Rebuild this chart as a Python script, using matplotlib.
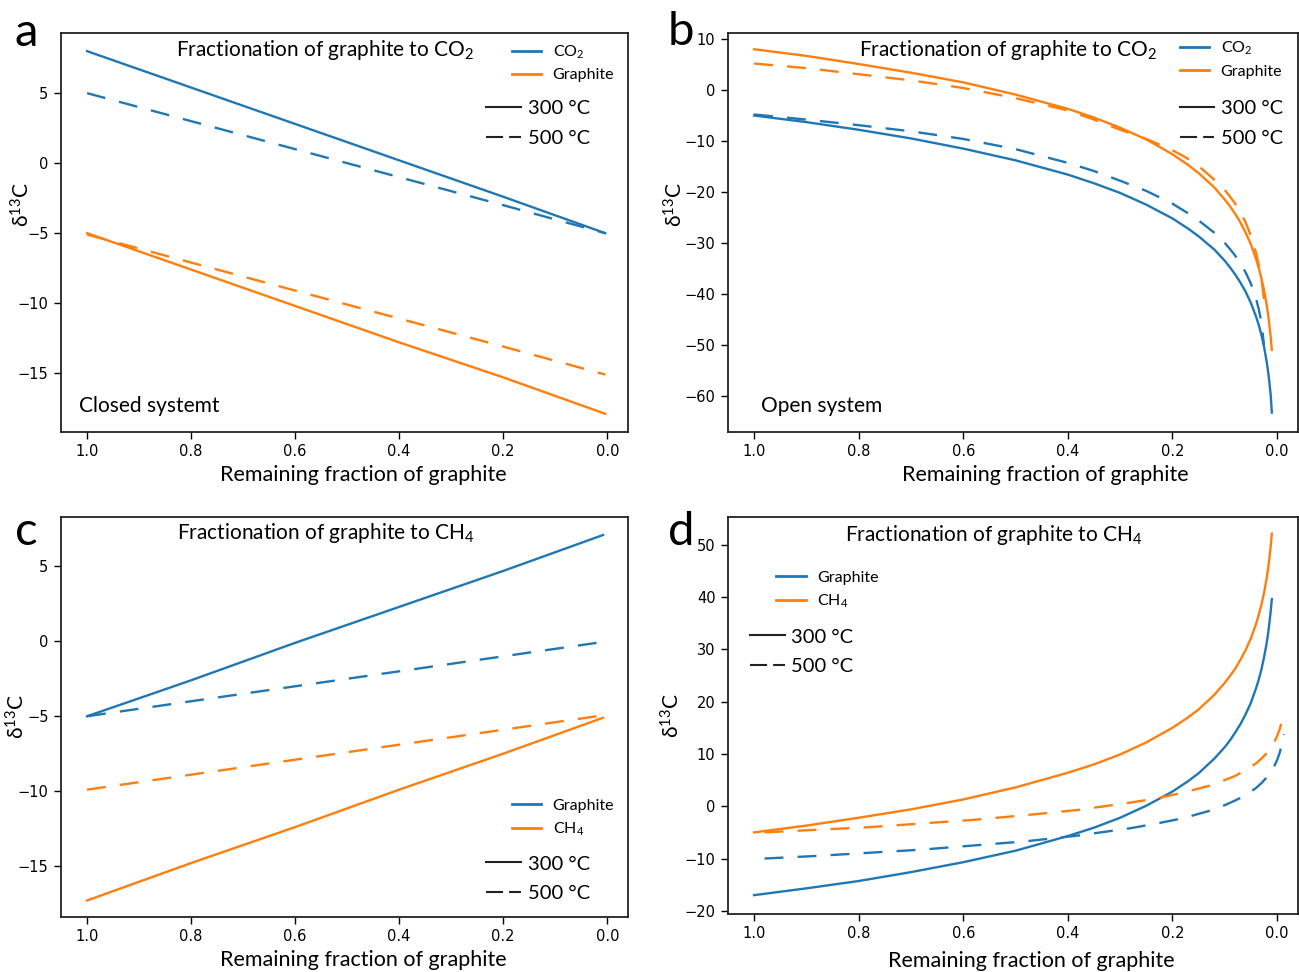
import matplotlib
matplotlib.use('Agg')
import matplotlib.pyplot as plt
from matplotlib.lines import Line2D

# ---- panel a : closed system, graphite -> CO2 ----
a_x = [1.0, 0.8, 0.6, 0.4, 0.2, 0.004]
a_co2_300 = [8.0, 5.4, 2.8, 0.2, -2.4, -5.0]
a_co2_500 = [5.0, 3.0, 1.0, -1.0, -3.0, -5.0]
a_gr_300 = [-5.0, -7.6, -10.2, -12.8, -15.3, -17.9]
a_gr_500 = [-5.1, -7.1, -9.1, -11.1, -13.1, -15.1]

# ---- panel b : open system, graphite -> CO2 ----
b_x = [1.0, 0.9, 0.8, 0.7, 0.6, 0.5, 0.4, 0.35, 0.3, 0.25, 0.2, 0.17, 0.15,
       0.12, 0.1, 0.09, 0.08, 0.07, 0.06, 0.05, 0.04, 0.035, 0.03, 0.025,
       0.02, 0.017, 0.015, 0.012, 0.01]
b_co2_300 = [-5.0, -6.3, -7.8, -9.5, -11.5, -13.8, -16.6, -18.3, -20.2, -22.5,
             -25.2, -27.2, -28.7, -31.3, -33.5, -34.8, -36.2, -37.8, -39.6,
             -41.8, -44.5, -46.1, -48.0, -50.3, -53.2, -55.3, -57.0, -60.0,
             -63.3]
b_gr_300 = [8.0, 6.7, 5.1, 3.4, 1.5, -0.9, -3.7, -5.4, -7.4, -9.7, -12.6,
            -14.7, -16.3, -19.1, -21.5, -22.8, -24.3, -26.0, -28.0, -30.3,
            -33.2, -34.9, -36.9, -39.2, -42.1, -44.1, -45.8, -48.6, -51.0]
b_xd = [1.0, 0.9, 0.8, 0.7, 0.6, 0.5, 0.4, 0.35, 0.3, 0.25, 0.2, 0.17, 0.15,
        0.12, 0.1, 0.09, 0.08, 0.07, 0.06, 0.05, 0.04, 0.035, 0.03, 0.025]
b_co2_500 = [-4.8, -5.8, -6.9, -8.1, -9.6, -11.6, -14.3, -15.9, -17.8, -19.8,
             -22.3, -24.2, -25.6, -28.0, -30.0, -31.2, -32.5, -34.0, -35.8,
             -38.0, -41.0, -43.0, -45.5, -50.0]
b_gr_500 = [5.2, 4.3, 3.1, 1.9, 0.4, -1.6, -4.0, -5.8, -7.8, -9.6, -11.8,
            -13.5, -14.9, -17.6, -19.6, -20.9, -22.3, -24.0, -26.0, -28.6,
            -32.0, -34.3, -37.0, -41.0]

# ---- panel c : closed system, graphite -> CH4 ----
c_x = [1.0, 0.8, 0.6, 0.4, 0.2, 0.008]
c_xd = [1.0, 0.8, 0.6, 0.4, 0.2, 0.02]
c_gr_300 = [-5.0, -2.6, -0.1, 2.3, 4.7, 7.1]
c_gr_500 = [-5.0, -4.0, -3.0, -2.0, -1.0, -0.1]
c_ch4_300 = [-17.3, -14.8, -12.4, -9.9, -7.5, -5.1]
c_ch4_500 = [-9.9, -8.9, -7.9, -6.9, -5.9, -5.0]

# ---- panel d : open system, graphite -> CH4 ----
d_x = [1.0, 0.9, 0.8, 0.7, 0.6, 0.5, 0.4, 0.35, 0.3, 0.25, 0.2, 0.17, 0.15,
       0.12, 0.1, 0.09, 0.08, 0.07, 0.06, 0.05, 0.04, 0.035, 0.03, 0.025,
       0.02, 0.017, 0.015, 0.012, 0.01]
d_gr_300 = [-17.0, -15.7, -14.3, -12.6, -10.7, -8.5, -5.7, -4.1, -2.2, 0.1,
            2.8, 4.8, 6.3, 9.1, 11.3, 12.6, 14.1, 15.7, 17.6, 19.8, 22.6,
            24.2, 26.1, 28.4, 31.1, 33.1, 34.7, 37.4, 39.6]
d_ch4_300 = [-5.0, -3.7, -2.2, -0.6, 1.3, 3.6, 6.4, 8.0, 9.9, 12.2, 15.0,
             17.0, 18.5, 21.3, 23.6, 24.9, 26.3, 28.0, 29.9, 32.1, 34.9, 36.6,
             38.5, 40.7, 43.5, 45.5, 47.1, 49.8, 52.1]
d_xd = [0.98, 0.88, 0.78, 0.68, 0.58, 0.48, 0.38, 0.28, 0.23, 0.18, 0.13, 0.1,
        0.08, 0.06, 0.04, 0.03, 0.02, 0.01, 0.005, 0.0, -0.005, -0.01, -0.013]
d_gr_500 = [-10.0, -9.5, -8.9, -8.3, -7.5, -6.7, -5.6, -4.2, -3.3, -2.3, -0.9,
            0.2, 1.1, 2.1, 3.5, 4.4, 5.5, 6.8, 7.7, 8.8, 10.2, 12.1, 13.8]
d_ch4_500 = [-5.0, -4.5, -4.0, -3.3, -2.6, -1.7, -0.7, 0.7, 1.5, 2.6, 3.9, 5.0,
             5.8, 6.9, 8.2, 9.1, 10.1, 11.5, 12.3, 13.4, 14.7, 16.6, 18.3]

x_ticks = [1.0, 0.8, 0.6, 0.4, 0.2, 0.0]
a_yticks = [5, 0, -5, -10, -15]
b_yticks = [10, 0, -10, -20, -30, -40, -50, -60]
c_yticks = [5, 0, -5, -10, -15]
d_yticks = [50, 40, 30, 20, 10, 0, -10, -20]

TF = 'Lato'
plt.rcParams['mathtext.fontset'] = 'custom'
plt.rcParams['mathtext.rm'] = TF
plt.rcParams['mathtext.it'] = TF + ':italic'
plt.rcParams['mathtext.bf'] = TF + ':bold'

BLUE = '#1f77b4'
ORANGE = '#ff7f0e'
DASH = (0, (8.0, 6.0))
LW = 1.7

fig = plt.figure(figsize=(12.99, 9.72), dpi=100)
ax_a = fig.add_axes([0.047, 0.5556, 0.4365, 0.4105])
ax_b = fig.add_axes([0.5604, 0.5556, 0.4388, 0.4105])
ax_c = fig.add_axes([0.047, 0.0566, 0.4365, 0.4115])
ax_d = fig.add_axes([0.5604, 0.0597, 0.4388, 0.4084])

ax_a.plot(a_x, a_co2_300, color=BLUE, lw=LW)
ax_a.plot(a_x, a_co2_500, color=BLUE, lw=LW, linestyle=DASH)
ax_a.plot(a_x, a_gr_300, color=ORANGE, lw=LW)
ax_a.plot(a_x, a_gr_500, color=ORANGE, lw=LW, linestyle=DASH)

ax_b.plot(b_x, b_co2_300, color=BLUE, lw=LW)
ax_b.plot(b_xd, b_co2_500, color=BLUE, lw=LW, linestyle=DASH)
ax_b.plot(b_x, b_gr_300, color=ORANGE, lw=LW)
ax_b.plot(b_xd, b_gr_500, color=ORANGE, lw=LW, linestyle=DASH)

ax_c.plot(c_x, c_gr_300, color=BLUE, lw=LW)
ax_c.plot(c_xd, c_gr_500, color=BLUE, lw=LW, linestyle=DASH)
ax_c.plot(c_x, c_ch4_300, color=ORANGE, lw=LW)
ax_c.plot(c_xd, c_ch4_500, color=ORANGE, lw=LW, linestyle=DASH)

ax_d.plot(d_x, d_gr_300, color=BLUE, lw=LW)
ax_d.plot(d_xd, d_gr_500, color=BLUE, lw=LW, linestyle=DASH)
ax_d.plot(d_x, d_ch4_300, color=ORANGE, lw=LW)
ax_d.plot(d_xd, d_ch4_500, color=ORANGE, lw=LW, linestyle=DASH)

ax_a.set_ylim(-19.2, 9.3)
ax_b.set_ylim(-67.1, 11.2)
ax_c.set_ylim(-18.4, 8.3)
ax_d.set_ylim(-20.6, 55.3)

ylabel_x = {'a': -0.048, 'b': -0.072, 'c': -0.058, 'd': -0.078}
ylabel_y = {'a': 0.571, 'b': 0.571, 'c': 0.50, 'd': 0.50}
xlabel_x = {'a': 0.533, 'b': 0.557, 'c': 0.533, 'd': 0.532}
xlabel_y = {'a': -0.083, 'b': -0.083, 'c': -0.083, 'd': -0.093}
yticks = {'a': a_yticks, 'b': b_yticks, 'c': c_yticks, 'd': d_yticks}

for key, ax in zip('abcd', [ax_a, ax_b, ax_c, ax_d]):
    ax.set_xlim(1.05, -0.04)
    ax.set_xticks(x_ticks)
    ax.set_yticks(yticks[key])
    ax.tick_params(labelsize=10.5, length=5, width=1.0, pad=4)
    for sp in ax.spines.values():
        sp.set_linewidth(1.3)
        sp.set_color('#222222')
    ax.set_xlabel('Remaining fraction of graphite', fontsize=15.5, fontfamily=TF)
    ax.set_ylabel('δ$^{13}$C', fontsize=15, fontfamily=TF)
    ax.xaxis.set_label_coords(xlabel_x[key], xlabel_y[key])
    ax.yaxis.set_label_coords(ylabel_x[key], ylabel_y[key])

# titles inside the axes
ax_a.text(0.466, 0.957, 'Fractionation of graphite to CO$_2$', transform=ax_a.transAxes,
          ha='center', va='center', fontsize=15, fontfamily=TF)
ax_b.text(0.491, 0.957, 'Fractionation of graphite to CO$_2$', transform=ax_b.transAxes,
          ha='center', va='center', fontsize=15, fontfamily=TF)
ax_c.text(0.467, 0.96, 'Fractionation of graphite to CH$_4$', transform=ax_c.transAxes,
          ha='center', va='center', fontsize=15, fontfamily=TF)
ax_d.text(0.467, 0.955, 'Fractionation of graphite to CH$_4$', transform=ax_d.transAxes,
          ha='center', va='center', fontsize=15, fontfamily=TF)

ax_a.text(0.032, 0.065, 'Closed systemt', transform=ax_a.transAxes,
          ha='left', va='center', fontsize=15, fontfamily=TF)
ax_b.text(0.058, 0.065, 'Open system', transform=ax_b.transAxes,
          ha='left', va='center', fontsize=15, fontfamily=TF)


def add_legends(ax, names, pos1, pos2, hl1=1.8, tp1=0.75, hl2=1.7, tp2=0.35):
    h1 = [Line2D([], [], color=BLUE, lw=2.0), Line2D([], [], color=ORANGE, lw=2.0)]
    leg1 = ax.legend(h1, names, loc='center left', bbox_to_anchor=pos1,
                     frameon=False, borderpad=0, borderaxespad=0,
                     handlelength=hl1, handletextpad=tp1, labelspacing=0.48,
                     prop={'family': TF, 'size': 11.5})
    ax.add_artist(leg1)
    h2 = [Line2D([], [], color='#222222', lw=1.5),
          Line2D([], [], color='#222222', lw=1.5, linestyle=(0, (8.2, 2.9)))]
    ax.legend(h2, ['300 °C', '500 °C'], loc='center left', bbox_to_anchor=pos2,
              frameon=False, borderpad=0, borderaxespad=0,
              handlelength=hl2, handletextpad=tp2, labelspacing=0.6,
              prop={'family': TF, 'size': 14.5})


add_legends(ax_a, ['CO$_2$', 'Graphite'], (0.795, 0.925), (0.750, 0.773))
add_legends(ax_b, ['CO$_2$', 'Graphite'], (0.793, 0.934), (0.793, 0.773))
add_legends(ax_c, ['Graphite', 'CH$_4$'], (0.795, 0.247), (0.750, 0.096))
add_legends(ax_d, ['Graphite', 'CH$_4$'], (0.084, 0.815), (0.0386, 0.661),
            hl1=1.9, tp1=0.7, hl2=1.75, tp2=0.3)

# panel letters
for letter, x, y in [('a', 15, 46), ('b', 668, 45), ('c', 15, 545), ('d', 668, 545)]:
    fig.text(x / 1299, 1 - y / 972, letter, fontsize=34, fontfamily=TF,
             ha='left', va='baseline')

fig.savefig('out.png', dpi=100)
